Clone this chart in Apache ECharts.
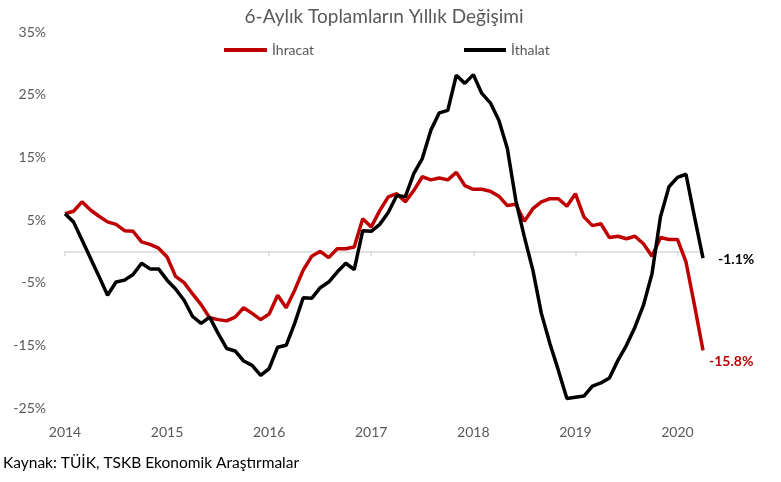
<!DOCTYPE html>
<html>
<head>
<meta charset="utf-8">
<script src="https://cdn.jsdelivr.net/npm/echarts@6/dist/echarts.min.js"></script>
<style>
html,body{margin:0;padding:0;background:#fff;}
#chart{width:781px;height:482px;}
</style>
</head>
<body>
<div id="chart"></div>
<script>
const categories = [
 '2014-01','2014-02','2014-03','2014-04','2014-05','2014-06','2014-07','2014-08','2014-09','2014-10','2014-11','2014-12',
 '2015-01','2015-02','2015-03','2015-04','2015-05','2015-06','2015-07','2015-08','2015-09','2015-10','2015-11','2015-12',
 '2016-01','2016-02','2016-03','2016-04','2016-05','2016-06','2016-07','2016-08','2016-09','2016-10','2016-11','2016-12',
 '2017-01','2017-02','2017-03','2017-04','2017-05','2017-06','2017-07','2017-08','2017-09','2017-10','2017-11','2017-12',
 '2018-01','2018-02','2018-03','2018-04','2018-05','2018-06','2018-07','2018-08','2018-09','2018-10','2018-11','2018-12',
 '2019-01','2019-02','2019-03','2019-04','2019-05','2019-06','2019-07','2019-08','2019-09','2019-10','2019-11','2019-12',
 '2020-01','2020-02','2020-03','2020-04'
];
const ihracat = [
 6.0, 6.4, 7.9, 6.6, 5.6, 4.7, 4.3, 3.3, 3.2, 1.5, 1.1, 0.5,
 -0.9, -4.0, -5.0, -6.8, -8.5, -10.6, -10.9, -11.1, -10.5, -9.0, -9.9, -10.9,
 -10.0, -7.0, -9.0, -6.2, -3.0, -0.8, 0.0, -1.0, 0.4, 0.4, 0.7, 5.2,
 3.9, 6.5, 8.7, 9.2, 7.9, 9.7, 11.9, 11.4, 11.7, 11.4, 12.6, 10.5,
 9.9, 9.9, 9.6, 8.8, 7.3, 7.5, 4.8, 6.8, 7.9, 8.4, 8.4, 7.2,
 9.2, 5.5, 4.1, 4.4, 2.2, 2.4, 2.0, 2.4, 1.2, -0.8, 2.2, 1.9,
 1.9, -1.7, -8.6, -15.8
];
const ithalat = [
 6.0, 4.7, 1.8, -1.1, -4.0, -7.0, -4.9, -4.6, -3.7, -1.9, -2.8, -2.8,
 -4.6, -6.0, -7.8, -10.4, -11.5, -10.5, -13.1, -15.5, -15.9, -17.5, -18.2, -19.8,
 -18.7, -15.3, -15.0, -11.5, -7.4, -7.5, -5.8, -4.9, -3.3, -1.9, -2.9, 3.3,
 3.2, 4.3, 6.2, 8.9, 8.7, 12.4, 14.8, 19.3, 22.1, 22.5, 28.1, 26.8,
 28.2, 25.2, 23.7, 20.9, 16.4, 8.1, 2.3, -3.0, -9.9, -14.7, -19.0, -23.5,
 -23.3, -23.1, -21.5, -21.0, -20.2, -17.4, -15.0, -12.1, -8.6, -3.6, 5.5, 10.3,
 11.8, 12.3, 5.5, -1.1
];
const yTickLabels = [-25, -15, -5, 5, 15, 25, 35];

const FONT = 'Lato, "Open Sans", sans-serif';
const GREY = '#595959';
const yearTick = function (idx) { return idx % 12 === 0; };
const chart = echarts.init(document.getElementById('chart'), null, {renderer: 'canvas'});
chart.setOption({
  animation: false,
  backgroundColor: '#ffffff',
  textStyle: {fontFamily: FONT},
  title: {
    text: '6-Aylık Toplamların Yıllık Değişimi',
    left: 379, top: 2, textAlign: 'center',
    textStyle: {fontFamily: FONT, fontSize: 19, fontWeight: 'normal', color: GREY}
  },
  legend: [
    {data: ['İhracat'], left: 219, top: 38, itemWidth: 43, itemHeight: 4, icon: 'rect', itemGap: 4,
     textStyle: {fontFamily: FONT, fontSize: 14, color: GREY}},
    {data: ['İthalat'], left: 459, top: 38, itemWidth: 42, itemHeight: 4, icon: 'rect', itemGap: 4,
     textStyle: {fontFamily: FONT, fontSize: 14, color: GREY}}
  ],
  grid: {left: 65, right: 78, top: 32, bottom: 74, containLabel: false, outerBoundsMode: 'none'},
  xAxis: [
    {
      type: 'category',
      data: categories,
      boundaryGap: false,
      position: 'bottom',
      axisLine: {show: false, onZero: false},
      axisTick: {show: false},
      axisLabel: {
        margin: 17,
        interval: yearTick,
        formatter: function (v) { return v.slice(0, 4); },
        fontFamily: FONT, fontSize: 14, color: GREY
      },
      splitLine: {show: false}
    },
    {
      type: 'category',
      data: categories,
      boundaryGap: false,
      position: 'bottom',
      axisLine: {show: true, onZero: true, lineStyle: {color: '#D9D9D9', width: 1.5}},
      axisTick: {show: true, length: 5, interval: yearTick, lineStyle: {color: '#D9D9D9', width: 1.5}},
      axisLabel: {show: false},
      splitLine: {show: false}
    }
  ],
  yAxis: {
    type: 'value',
    min: -25, max: 35, interval: 5,
    axisLine: {show: false},
    axisTick: {show: false},
    splitLine: {show: false},
    axisLabel: {
      margin: 19,
      fontFamily: FONT, fontSize: 14, color: GREY,
      formatter: function (v) { return yTickLabels.indexOf(v) >= 0 ? v + '%' : ''; }
    }
  },
  series: [
    {
      name: 'İhracat', type: 'line', data: ihracat, symbol: 'none', xAxisIndex: 0,
      lineStyle: {color: '#C00000', width: 3.5}, itemStyle: {color: '#C00000'},
      z: 3,
      endLabel: {show: true, formatter: function (p) { return p.value.toFixed(1) + '%'; },
        distance: 6, offset: [0, 11], color: '#C00000', fontWeight: 'bold', fontSize: 14, fontFamily: FONT}
    },
    {
      name: 'İthalat', type: 'line', data: ithalat, symbol: 'none', xAxisIndex: 0,
      lineStyle: {color: '#000000', width: 3.5}, itemStyle: {color: '#000000'},
      z: 4,
      endLabel: {show: true, formatter: function (p) { return p.value.toFixed(1) + '%'; },
        distance: 15, offset: [0, 1], color: '#000000', fontWeight: 'bold', fontSize: 14, fontFamily: FONT}
    }
  ],
  graphic: [
    {type: 'text', left: 3, top: 455,
     style: {text: 'Kaynak: TÜİK, TSKB Ekonomik Araştırmalar', fill: '#000000', font: '15.5px ' + FONT}}
  ]
});
</script>
</body>
</html>
